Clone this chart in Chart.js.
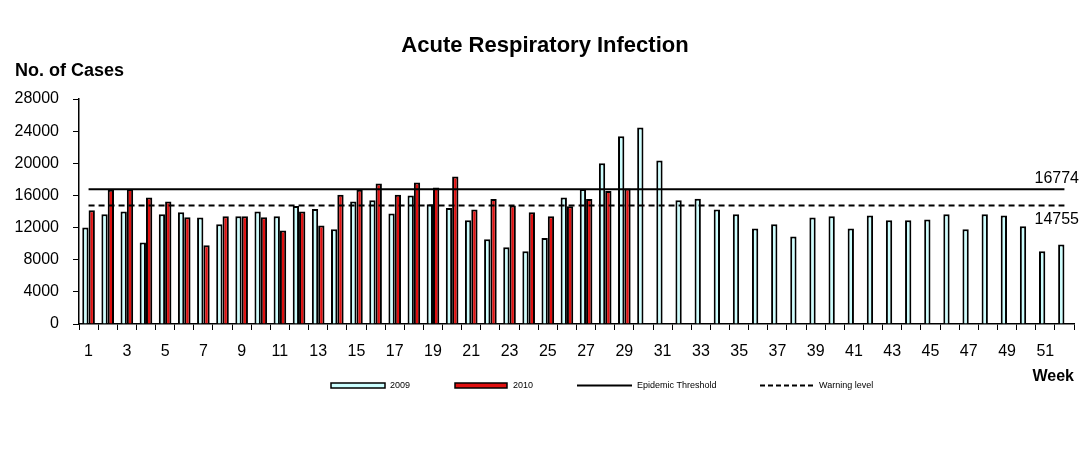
<!DOCTYPE html>
<html>
<head>
<meta charset="utf-8">
<title>Acute Respiratory Infection</title>
<script src="https://cdn.jsdelivr.net/npm/chart.js@4.4.1/dist/chart.umd.min.js"></script>
<style>
    html, body { margin: 0; padding: 0; background: #fff; }
    #wrap { width: 1088px; height: 458px; }
</style>
</head>
<body>
<div id="wrap"><canvas id="ariChart" width="1088" height="458"></canvas></div>
<script>
// ========================================
// DATA
// ========================================
const weeks = [];
for (let w = 1; w <= 52; w++) weeks.push(String(w));

const cases2009 = [
    12000, 13650, 14000, 10150, 13650, 13900, 13250, 12400, 13400, 14000,
    13400, 14700, 14300, 11800, 15250, 15400, 13750, 16000, 14900, 14450,
    12900, 10550, 9550, 9050, 10700, 15750, 16800, 20000, 23350, 24450,
    20350, 15400, 15600, 14250, 13650, 11900, 12400, 10900, 13250, 13400,
    11900, 13500, 12900, 12900, 13000, 13650, 11800, 13650, 13500, 12150,
    9050, 9900
];

const cases2010 = [
    14150, 16700, 16800, 15750, 15250, 13300, 9800, 13400, 13400, 13300,
    11650, 14000, 12250, 16100, 16700, 17500, 16100, 17600, 17000, 18350,
    14250, 15550, 14750, 13900, 13400, 14650, 15550, 16550, 16850
];

const epidemicThreshold = 16774;
const warningLevel = 14755;

const yTicks = [0, 4000, 8000, 12000, 16000, 20000, 24000, 28000];

const FONT = '"Liberation Sans", Arial, sans-serif';
const CYAN = '#CCFFFF';
const RED = '#E01010';

// ========================================
// EXTRA TEXT + LEGEND PLUGIN
// ========================================
const decorPlugin = {
    id: 'decor',
    afterDraw(chart) {
        const ctx = chart.ctx;
        const y = chart.scales.y;
        const area = chart.chartArea;
        ctx.save();
        ctx.fillStyle = '#000';
        ctx.textBaseline = 'middle';

        // title
        ctx.font = 'bold 22px ' + FONT;
        ctx.textAlign = 'center';
        ctx.fillText('Acute Respiratory Infection', 545, 46);

        // y axis title
        ctx.font = 'bold 18px ' + FONT;
        ctx.textAlign = 'left';
        ctx.fillText('No. of Cases', 15, 71);

        // x axis title
        ctx.font = 'bold 16px ' + FONT;
        ctx.textAlign = 'right';
        ctx.fillText('Week', area.right, 377);

        // threshold values
        ctx.font = '16px ' + FONT;
        ctx.fillText(String(epidemicThreshold), 1079, y.getPixelForValue(epidemicThreshold) - 11);
        ctx.fillText(String(warningLevel), 1079, y.getPixelForValue(warningLevel) + 14);

        // legend
        const ly = 385.5;
        ctx.font = '9px ' + FONT;
        ctx.textAlign = 'left';
        ctx.lineWidth = 1.5;
        ctx.strokeStyle = '#000';

        ctx.fillStyle = CYAN;
        ctx.fillRect(331, ly - 2.5, 54, 5);
        ctx.strokeRect(331, ly - 2.5, 54, 5);
        ctx.fillStyle = '#000';
        ctx.fillText('2009', 390, ly);

        ctx.fillStyle = RED;
        ctx.fillRect(455, ly - 2.5, 52, 5);
        ctx.strokeRect(455, ly - 2.5, 52, 5);
        ctx.fillStyle = '#000';
        ctx.fillText('2010', 513, ly);

        ctx.lineWidth = 2;
        ctx.beginPath();
        ctx.moveTo(577, ly);
        ctx.lineTo(632, ly);
        ctx.stroke();
        ctx.fillText('Epidemic Threshold', 637, ly);

        ctx.setLineDash([5, 3]);
        ctx.beginPath();
        ctx.moveTo(760, ly);
        ctx.lineTo(815, ly);
        ctx.stroke();
        ctx.setLineDash([]);
        ctx.fillText('Warning level', 819, ly);

        ctx.restore();
    }
};

// ========================================
// CHART
// ========================================
const ctx = document.getElementById('ariChart');

new Chart(ctx, {
    type: 'bar',
    data: {
        labels: weeks,
        datasets: [
            {
                label: 'Epidemic Threshold',
                type: 'line',
                data: [
                    { x: weeks[0], y: epidemicThreshold },
                    { x: weeks[weeks.length - 1], y: epidemicThreshold }
                ],
                borderColor: '#000',
                borderWidth: 2,
                pointRadius: 0,
                fill: false,
                order: 0
            },
            {
                label: 'Warning level',
                type: 'line',
                data: [
                    { x: weeks[0], y: warningLevel },
                    { x: weeks[weeks.length - 1], y: warningLevel }
                ],
                borderColor: '#000',
                borderWidth: 2,
                borderDash: [6, 4],
                pointRadius: 0,
                fill: false,
                order: 0
            },
            {
                label: '2009',
                data: cases2009,
                backgroundColor: CYAN,
                borderColor: '#000',
                borderWidth: 2,
                barPercentage: 1,
                categoryPercentage: 0.66,
                order: 1
            },
            {
                label: '2010',
                data: cases2010,
                backgroundColor: RED,
                borderColor: '#000',
                borderWidth: 2,
                barPercentage: 1,
                categoryPercentage: 0.66,
                order: 1
            }
        ]
    },
    options: {
        responsive: false,
        animation: false,
        devicePixelRatio: 1,
        layout: {
            padding: { top: 99, left: 0, right: 14, bottom: 94 }
        },
        plugins: {
            legend: { display: false },
            title: { display: false },
            tooltip: { enabled: false }
        },
        scales: {
            x: {
                grid: {
                    display: true,
                    drawOnChartArea: false,
                    drawTicks: true,
                    tickLength: 6,
                    color: '#000',
                    lineWidth: 1
                },
                border: { color: '#000', width: 1.5 },
                ticks: {
                    autoSkip: false,
                    maxRotation: 0,
                    padding: 12,
                    color: '#000',
                    font: { family: FONT, size: 16 },
                    callback: function(value, index) {
                        return index % 2 === 0 ? weeks[index] : '';
                    }
                },
                afterFit: function(scale) { scale.height = 40; }
            },
            y: {
                min: 0,
                max: yTicks[yTicks.length - 1],
                afterBuildTicks: function(scale) {
                    scale.ticks = yTicks.map(v => ({ value: v }));
                },
                grid: {
                    display: true,
                    drawOnChartArea: false,
                    drawTicks: true,
                    tickLength: 6,
                    color: '#000',
                    lineWidth: 1
                },
                border: { color: '#000', width: 1.5 },
                ticks: {
                    padding: 14,
                    color: '#000',
                    font: { family: FONT, size: 16 },
                    callback: function(value) { return String(value); }
                },
                afterFit: function(scale) { scale.width = 79; }
            }
        }
    },
    plugins: [decorPlugin]
});
</script>
</body>
</html>
